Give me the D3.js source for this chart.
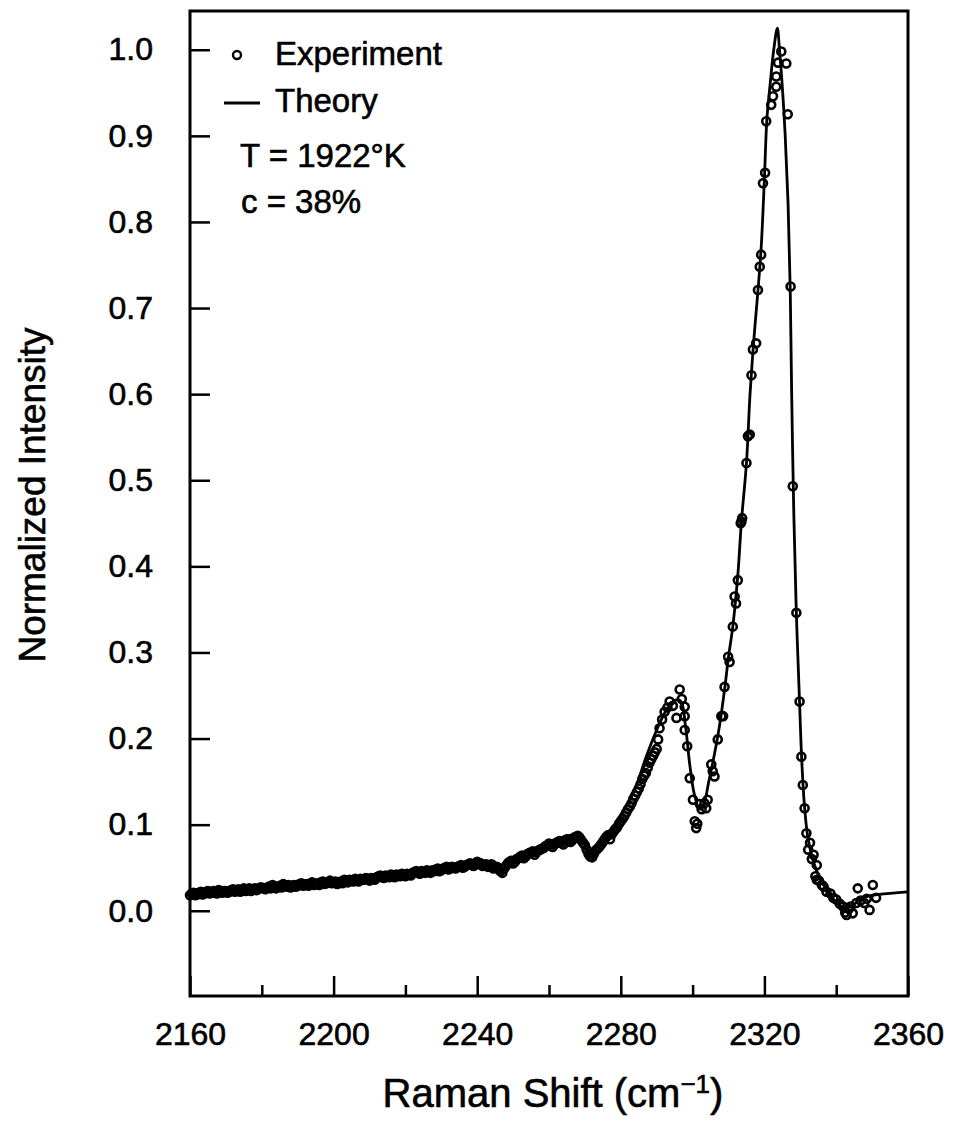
<!DOCTYPE html>
<html>
<head>
<meta charset="utf-8">
<script src="https://cdn.jsdelivr.net/npm/d3@7"></script>
<style>
  body { margin: 0; background: #fff; }
  svg text { font-family: "Liberation Sans", Arial, sans-serif; fill: #000; stroke: #000; stroke-width: 0.6px; }
</style>
</head>
<body>
<div id="chart"></div>
<script>
// Raman shift (cm-1) / normalized intensity
const theoryShift = [2160, 2165, 2171, 2180, 2185, 2192, 2199, 2206, 2213, 2220, 2227, 2233, 2240, 2244, 2247,
  2250, 2254, 2259, 2264, 2268, 2270, 2271.5, 2273, 2276, 2279.7, 2282, 2284.3, 2287, 2290, 2293, 2295.5,
  2296.8, 2298, 2299.2, 2300.5, 2302, 2303, 2304.5, 2306, 2307.5, 2309, 2310, 2311.2, 2312.6, 2313.6, 2315,
  2316, 2317, 2318.2, 2319.1, 2320, 2320.7, 2321.6, 2322.6, 2323.6, 2324.2, 2325.1, 2325.8, 2326.6, 2327.2,
  2327.6, 2328.2, 2328.9, 2329.8, 2330.4, 2331.1, 2332, 2333.3, 2334.6, 2336.5, 2338.4, 2340.5, 2342.5,
  2344.5, 2346.5, 2349, 2352, 2360];
const theoryIntensity = [0.019, 0.021, 0.023, 0.027, 0.030, 0.031, 0.034, 0.037, 0.040, 0.043, 0.046, 0.050, 0.055, 0.052, 0.048,
  0.058, 0.067, 0.076, 0.082, 0.086, 0.078, 0.064, 0.072, 0.086, 0.108, 0.125, 0.145, 0.178, 0.210, 0.235, 0.245,
  0.243, 0.215, 0.170, 0.135, 0.118, 0.122, 0.150, 0.180, 0.215, 0.260, 0.295, 0.330, 0.390, 0.452, 0.520,
  0.600, 0.660, 0.720, 0.770, 0.850, 0.920, 0.960, 1.000, 1.025, 1.000, 0.950, 0.900, 0.820, 0.720,
  0.600, 0.460, 0.346, 0.241, 0.175, 0.125, 0.088, 0.062, 0.046, 0.030, 0.018, 0.008, 0.003,
  0.006, 0.013, 0.017, 0.019, 0.022];

const expShift = [2160, 2161, 2162, 2163, 2164, 2165, 2166, 2167, 2168, 2169, 2170, 2171, 2172, 2173, 2174,
  2175, 2176, 2177, 2178, 2179, 2180, 2181, 2182, 2183, 2184, 2185, 2186, 2187, 2188, 2189, 2190, 2191, 2192,
  2193, 2194, 2195, 2196, 2197, 2198, 2199, 2200, 2201, 2202, 2203, 2204, 2205, 2206, 2207, 2208, 2209, 2210,
  2211, 2212, 2213, 2214, 2215, 2216, 2217, 2218, 2219, 2220, 2221, 2222, 2223, 2224, 2225, 2226, 2227, 2228,
  2229, 2230, 2231, 2232, 2233, 2234, 2235, 2236, 2237, 2238, 2239, 2240, 2241, 2242, 2243, 2244, 2245, 2246,
  2247, 2248, 2249, 2250, 2251, 2252, 2253, 2254, 2255, 2256, 2257, 2258, 2259, 2260, 2261, 2262, 2263, 2264,
  2265, 2266, 2267, 2268, 2269, 2270, 2271, 2272, 2273, 2274, 2275, 2276, 2277, 2278, 2279, 2280, 2281, 2282,
  2283, 2284, 2285, 2286, 2287, 2288, 2289, 2290,
  2160.5, 2161.5, 2162.5, 2163.5, 2164.5, 2165.5, 2166.5, 2167.5, 2168.5, 2169.5,
  2170.5, 2171.5, 2172.5, 2173.5, 2174.5, 2175.5, 2176.5, 2177.5, 2178.5, 2179.5,
  2180.5, 2181.5, 2182.5, 2183.5, 2184.5, 2185.5, 2186.5, 2187.5, 2188.5, 2189.5,
  2190.5, 2191.5, 2192.5, 2193.5, 2194.5, 2195.5, 2196.5, 2197.5, 2198.5, 2199.5,
  2200.5, 2201.5, 2202.5, 2203.5, 2204.5, 2205.5, 2206.5, 2207.5, 2208.5, 2209.5,
  2210.5, 2211.5, 2212.5, 2213.5, 2214.5, 2215.5, 2216.5, 2217.5, 2218.5, 2219.5,
  2220.5, 2221.5, 2222.5, 2223.5, 2224.5, 2225.5, 2226.5, 2227.5, 2228.5, 2229.5,
  2230.5, 2231.5, 2232.5, 2233.5, 2234.5, 2235.5, 2236.5, 2237.5, 2238.5, 2239.5,
  2240.5, 2241.5, 2242.5, 2243.5, 2244.5, 2245.5, 2246.5, 2247.5, 2248.5, 2249.5,
  2250.5, 2251.5, 2252.5, 2253.5, 2254.5, 2255.5, 2256.5, 2257.5, 2258.5, 2259.5,
  2260.5, 2261.5, 2262.5, 2263.5, 2264.5, 2265.5, 2266.5, 2267.5, 2268.5, 2269.5,
  2270.5, 2271.5, 2272.5, 2273.5, 2274.5, 2275.5, 2276.5, 2277.5, 2278.5, 2279.5,
  2280.5, 2281.5, 2282.5, 2283.5, 2284.5, 2285.5, 2286.5, 2287.5, 2288.5, 2289.5,
  2290.4, 2290.8, 2291.5, 2292.2, 2293, 2293.6, 2294.5, 2295.5, 2296.4, 2297, 2297.8, 2297.8, 2297.8, 2298.5,
  2299.2, 2300.1, 2300.6, 2301, 2301.3, 2302, 2302.5, 2303.3, 2303.8, 2304.2, 2305.2, 2305.6, 2306.1, 2307,
  2308, 2308.5, 2308.9, 2309.9, 2310.3, 2311.2, 2311.7, 2312.1, 2312.6, 2313.4, 2313.6, 2313.8, 2315, 2315.4,
  2315.9, 2316.4, 2316.8, 2317.7, 2318.2, 2318.7, 2319.1, 2319.6, 2320.2, 2320.5, 2321.9, 2322.4, 2323.3,
  2323.3, 2323.8, 2324.7, 2326.1, 2326.5, 2327.3, 2327.9, 2328.9, 2329.8, 2330.3, 2330.7, 2331.2, 2331.7,
  2332.2, 2332.7, 2333.2, 2333.7, 2334.2, 2334.6, 2334.6, 2335.2, 2336, 2336.5, 2337.3, 2338.4, 2339.2, 2340,
  2341, 2341.9, 2342.5, 2342.9, 2343.5, 2344, 2344.6, 2345.6, 2346, 2346.8, 2347.8, 2348.5, 2349.3, 2350.2,
  2351.1];
const expIntensity = [0.018, 0.021, 0.019, 0.022, 0.020, 0.023, 0.021, 0.022, 0.024, 0.021, 0.023, 0.022, 0.025, 0.023, 0.022,
  0.026, 0.024, 0.023, 0.026, 0.025, 0.027, 0.025, 0.028, 0.030, 0.026, 0.029, 0.031, 0.028, 0.027, 0.030, 0.029, 0.032, 0.030,
  0.029, 0.033, 0.031, 0.030, 0.034, 0.032, 0.035, 0.033, 0.031, 0.034, 0.036, 0.033, 0.035, 0.037, 0.034, 0.036, 0.038, 0.035,
  0.037, 0.039, 0.041, 0.038, 0.040, 0.042, 0.039, 0.041, 0.043, 0.040, 0.042, 0.044, 0.046, 0.043, 0.045, 0.047, 0.044, 0.046,
  0.049, 0.047, 0.050, 0.048, 0.051, 0.049, 0.052, 0.050, 0.053, 0.055, 0.052, 0.057, 0.055, 0.053, 0.051, 0.054, 0.050, 0.048,
  0.044, 0.052, 0.057, 0.055, 0.060, 0.063, 0.061, 0.066, 0.068, 0.065, 0.070, 0.072, 0.075, 0.078, 0.074, 0.079, 0.081, 0.077,
  0.083, 0.080, 0.085, 0.087, 0.082, 0.076, 0.066, 0.062, 0.070, 0.074, 0.080, 0.086, 0.083, 0.092, 0.097, 0.104, 0.110, 0.118,
  0.125, 0.134, 0.142, 0.153, 0.160, 0.172, 0.180, 0.188,
  0.020, 0.018, 0.021, 0.019, 0.022, 0.020, 0.023, 0.020, 0.022, 0.023,
  0.021, 0.024, 0.022, 0.025, 0.024, 0.023, 0.026, 0.025, 0.024, 0.027,
  0.026, 0.027, 0.026, 0.028, 0.028, 0.027, 0.029, 0.030, 0.029, 0.028,
  0.031, 0.029, 0.031, 0.031, 0.030, 0.032, 0.033, 0.031, 0.033, 0.032,
  0.034, 0.033, 0.032, 0.035, 0.036, 0.034, 0.035, 0.037, 0.036, 0.037,
  0.038, 0.036, 0.040, 0.039, 0.041, 0.039, 0.041, 0.042, 0.040, 0.042,
  0.043, 0.041, 0.045, 0.044, 0.046, 0.044, 0.045, 0.047, 0.048, 0.046,
  0.049, 0.051, 0.049, 0.050, 0.051, 0.053, 0.051, 0.054, 0.053, 0.055,
  0.054, 0.052, 0.054, 0.052, 0.049, 0.051, 0.046, 0.049, 0.055, 0.058,
  0.057, 0.061, 0.064, 0.063, 0.067, 0.069, 0.068, 0.071, 0.073, 0.076,
  0.077, 0.077, 0.080, 0.079, 0.082, 0.083, 0.082, 0.086, 0.085, 0.079,
  0.071, 0.063, 0.066, 0.072, 0.077, 0.083, 0.088, 0.089, 0.095, 0.101,
  0.107, 0.114, 0.121, 0.130, 0.138, 0.147, 0.157, 0.166, 0.176, 0.184,
  0.199, 0.212, 0.222, 0.231, 0.236, 0.243, 0.238, 0.224, 0.257, 0.246, 0.237, 0.226, 0.210, 0.191,
  0.154, 0.129, 0.104, 0.096, 0.101, 0.124, 0.118, 0.125, 0.119, 0.129, 0.170, 0.162, 0.156, 0.199,
  0.226, 0.226, 0.260, 0.295, 0.289, 0.330, 0.365, 0.357, 0.384, 0.450, 0.452, 0.456, 0.520, 0.551,
  0.553, 0.622, 0.652, 0.659, 0.721, 0.748, 0.762, 0.845, 0.857, 0.917, 0.936, 0.946, 0.957,
  0.969, 0.985, 0.998, 0.984, 0.925, 0.725, 0.493, 0.346, 0.243, 0.179, 0.146, 0.119, 0.090,
  0.071, 0.079, 0.060, 0.065, 0.040, 0.053, 0.036, 0.035, 0.030, 0.028, 0.022, 0.020, 0.015, 0.013,
  0.008, 0.005, -0.002, -0.005, 0.002, 0.005, -0.003, 0.009, 0.026, 0.012, 0.009, 0.014, 0.001, 0.030,
  0.015];

const xMajorTicks = [2160, 2200, 2240, 2280, 2320, 2360];
const xMinorTicks = [2180, 2220, 2260, 2300, 2340];
const yTicks = [0.0, 0.1, 0.2, 0.3, 0.4, 0.5, 0.6, 0.7, 0.8, 0.9, 1.0];
const legendLines = ["Experiment", "Theory", "T = 1922°K", "c = 38%"];

const W = 956, H = 1124;
const plotLeft = 190, plotRight = 908, plotTop = 11, plotBottom = 996;

const svg = d3.select("#chart").append("svg")
  .attr("width", W)
  .attr("height", H);

const x = d3.scaleLinear().domain([2160, 2360]).range([plotLeft, plotRight]);
const y = d3.scaleLinear().domain([-0.099, 1.045]).range([plotBottom, plotTop]);

// axes, ticks pointing into the plot
svg.append("g")
  .attr("transform", `translate(0,${plotBottom})`)
  .call(d3.axisBottom(x).tickValues(xMajorTicks).tickSize(-20).tickPadding(26).tickFormat(d3.format("d")));
svg.append("g")
  .attr("transform", `translate(0,${plotBottom})`)
  .call(d3.axisBottom(x).tickValues(xMinorTicks).tickSize(-11).tickFormat(""));
svg.append("g")
  .attr("transform", `translate(${plotLeft},0)`)
  .call(d3.axisLeft(y).tickValues(yTicks).tickSize(-20).tickPadding(37).tickFormat(d3.format(".1f")));

svg.selectAll(".domain").remove();
svg.selectAll(".tick line").attr("stroke", "#000").attr("stroke-width", 2.5);
svg.selectAll(".tick text")
  .style("font-size", "32px")
  .style("font-family", "Liberation Sans, Arial, sans-serif")
  .attr("stroke", "#000").attr("stroke-width", 0.6);

// frame
svg.append("rect")
  .attr("x", plotLeft).attr("y", plotTop)
  .attr("width", plotRight - plotLeft).attr("height", plotBottom - plotTop)
  .attr("fill", "none").attr("stroke", "#000").attr("stroke-width", 3);

// theory line
const line = d3.line()
  .x((d, i) => x(theoryShift[i]))
  .y(d => y(d))
  .curve(d3.curveCatmullRom);

svg.append("path")
  .datum(theoryIntensity)
  .attr("fill", "none")
  .attr("stroke", "#000")
  .attr("stroke-width", 2.8)
  .attr("d", line);

// experiment points
svg.append("g").selectAll("circle")
  .data(expIntensity)
  .enter()
  .append("circle")
  .attr("cx", (d, i) => x(expShift[i]))
  .attr("cy", d => y(d))
  .attr("r", 4)
  .attr("fill", "none")
  .attr("stroke", "#000")
  .attr("stroke-width", 2.6);

// legend
svg.append("circle")
  .attr("cx", 237).attr("cy", 55).attr("r", 4)
  .attr("fill", "none").attr("stroke", "#000").attr("stroke-width", 2.4);
svg.append("line")
  .attr("x1", 224).attr("x2", 260).attr("y1", 103).attr("y2", 103)
  .attr("stroke", "#000").attr("stroke-width", 2.8);

const legendPos = [[275, 65], [275, 112], [240, 167], [241, 213]];
svg.selectAll(".legend-text")
  .data(legendLines)
  .enter()
  .append("text")
  .attr("class", "legend-text")
  .attr("x", (d, i) => legendPos[i][0])
  .attr("y", (d, i) => legendPos[i][1])
  .style("font-size", "33px")
  .text(d => d);

// axis titles
const xt = svg.append("text")
  .attr("x", (plotLeft + plotRight) / 2 + 4)
  .attr("y", 1107)
  .attr("text-anchor", "middle")
  .style("font-size", "40px")
  .text("Raman Shift (cm");
xt.append("tspan").attr("dy", -14).style("font-size", "26px").text("−1");
xt.append("tspan").attr("dy", 14).text(")");

svg.append("text")
  .attr("transform", "translate(45,495) rotate(-90)")
  .attr("text-anchor", "middle")
  .style("font-size", "37px")
  .text("Normalized Intensity");
</script>
</body>
</html>
